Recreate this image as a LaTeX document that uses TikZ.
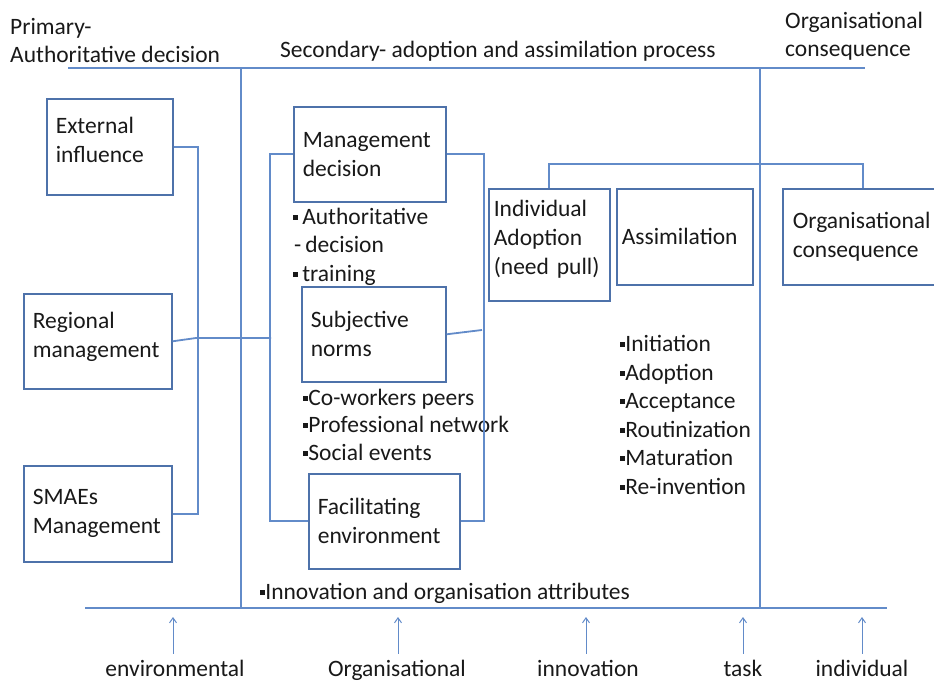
\documentclass[tikz,border=0pt]{standalone}
\usepackage{fontspec}
\setmainfont{Carlito}
\usetikzlibrary{arrows.meta}
\definecolor{linec}{RGB}{98,139,201}
\definecolor{boxc}{RGB}{78,114,170}
\definecolor{txtc}{RGB}{25,25,25}
\newcommand\sqb{\rule[0.2em]{0.22em}{0.22em}}
\begin{document}
\begin{tikzpicture}[x=1pt,y=-1pt,
  every node/.style={text=txtc,font=\fontsize{23.5}{29}\selectfont},
  lbl/.style={anchor=mid west,inner sep=0pt,yshift=-6pt},
  boxnode/.style={draw=boxc,line width=1.6pt,inner xsep=9pt,inner ysep=0pt,align=left,anchor=north west},
  frame/.style={draw=linec,line width=2.6pt},
  vline/.style={draw=linec,line width=2.2pt},
  conn/.style={draw=linec,line width=1.8pt},
  arr/.style={draw=linec,line width=1pt,-{Straight Barb[length=5pt,width=7pt]}}]
\useasboundingbox (0,0) rectangle (934,684);
% frame lines
\coordinate (tl) at (68,68);
\coordinate (tr) at (865,68);
\coordinate (bl) at (85,608);
\coordinate (br) at (887,608);
\coordinate (v1t) at (241,68);
\coordinate (v1b) at (241,608);
\coordinate (v2t) at (760,68);
\coordinate (v2b) at (760,608);
\draw[frame] (tl) -- (tr);
\draw[frame] (bl) -- (br);
\draw[vline] (v1t) -- (v1b);
\draw[vline] (v2t) -- (v2b);
% headings
\node[lbl] (h1a) at (10,26) {Primary-};
\node[lbl] (h1b) at (10,54) {Authoritative decision};
\node[lbl] (h2) at (280,49) {Secondary- adoption and assimilation process};
\node[lbl] (h3a) at (785,20) {Organisational};
\node[lbl] (h3b) at (785,48) {consequence};
% left boxes
\node[boxnode,text width=108pt,minimum height=96pt] (ext) at (46,98) {External\\influence\par\vspace{14pt}};
\node[boxnode,text width=130pt,minimum height=95pt] (reg) at (23,293) {Regional\\management\par\vspace{8pt}};
\node[boxnode,text width=130pt,minimum height=96pt] (sma) at (23,465) {SMAEs\\Management};
% middle boxes
\node[boxnode,text width=134pt,minimum height=95pt] (mgt) at (293,106) {Management\\decision};
\node[boxnode,text width=126pt,minimum height=95pt] (sub) at (301,286) {Subjective\\norms};
\node[boxnode,text width=133pt,minimum height=95pt] (fac) at (308,473) {Facilitating\\environment};
% right boxes
\node[boxnode,text width=111pt,minimum height=112pt,inner xsep=5pt] (ind) at (488,188) {Individual\\Adoption\\(need pull)\par\vspace{12pt}};
\node[boxnode,text width=126pt,minimum height=96pt,inner xsep=5pt] (ass) at (616,188) {Assimilation};
\node[boxnode,text width=140pt,minimum height=96pt,inner xsep=10pt] (org) at (782,188) {Organisational\\consequence};
% bullet texts
\node[lbl] (b1) at (293,216) {\sqb\,Authoritative};
\node[lbl] (b2) at (294,244) {-\,decision};
\node[lbl] (b3) at (293,273) {\sqb\,training};
\node[lbl] (c1) at (303,397) {\sqb Co-workers peers};
\node[lbl] (c2) at (303,424) {\sqb Professional network};
\node[lbl] (c3) at (303,452) {\sqb Social events};
\node[lbl] (d1) at (620,343) {\sqb Initiation};
\node[lbl] (d2) at (620,372) {\sqb Adoption};
\node[lbl] (d3) at (620,400) {\sqb Acceptance};
\node[lbl] (d4) at (620,429) {\sqb Routinization};
\node[lbl] (d5) at (620,457) {\sqb Maturation};
\node[lbl] (d6) at (620,486) {\sqb Re-invention};
\node[lbl] (e1) at (260,591) {\sqb Innovation and organisation attributes};
% connectors
\coordinate (j1) at (196,338);
\coordinate (j2) at (271,338);
\coordinate (j3) at (482,330);
\draw[conn] (ext.east) -- ++(24,0) |- (sma.east);
\draw[conn] (reg.east) -- (j1) -- (j2);
\draw[conn] (mgt.west) -- ++(-23,0) |- (fac.west);
\draw[conn] (mgt.east) -- ++(37,0) |- (fac.east);
\draw[conn] (sub.east) -- (j3);
\draw[conn] (ind.north) -- ++(0,-24) -| (org.north);
% bottom labels and arrows
\node[lbl,anchor=mid] (f1) at (175,668) {environmental};
\node[lbl,anchor=mid] (f2) at (397,668) {Organisational};
\node[lbl,anchor=mid] (f3) at (588,668) {innovation};
\node[lbl,anchor=mid] (f4) at (743,668) {task};
\node[lbl,anchor=mid] (f5) at (862,668) {individual};
\coordinate (t1) at (173,617);
\coordinate (t2) at (398,617);
\coordinate (t3) at (586,617);
\coordinate (t4) at (743,617);
\coordinate (t5) at (862,617);
\draw[arr] (t1 |- f1.north) ++(0,-6) -- (t1);
\draw[arr] (t2 |- f2.north) ++(0,-6) -- (t2);
\draw[arr] (t3 |- f3.north) ++(0,-6) -- (t3);
\draw[arr] (t4 |- f4.north) ++(0,-6) -- (t4);
\draw[arr] (t5 |- f5.north) ++(0,-6) -- (t5);
\end{tikzpicture}
\end{document}
